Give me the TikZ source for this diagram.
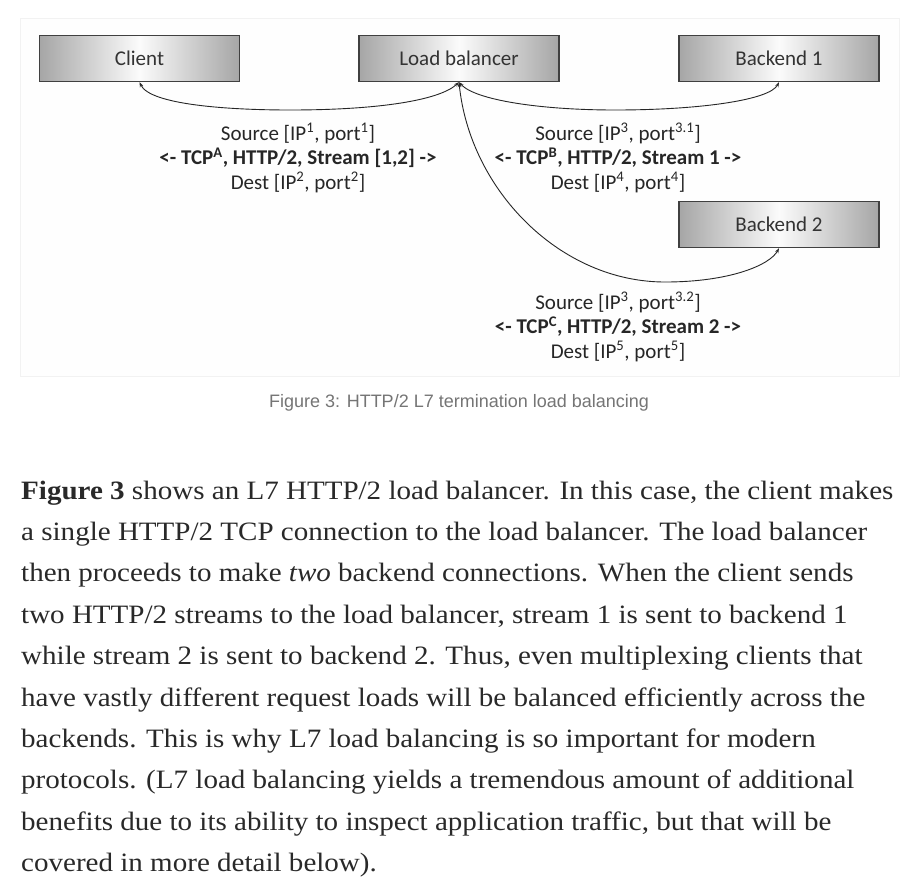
\documentclass[tikz,border=0pt]{standalone}
\usepackage{fontspec}
\setmainfont{Liberation Serif}
\newfontfamily\calfont{Carlito}
\newfontfamily\capfont{Liberation Sans}
\newfontfamily\bodyfont[FakeStretch=1.096]{Liberation Serif}
\usetikzlibrary{arrows.meta}
\definecolor{bodytext}{HTML}{292929}
\definecolor{captext}{HTML}{757575}
\begin{document}
\begin{tikzpicture}[x=1pt,y=-1pt,
 box/.style={draw=black!75, line width=1.3pt, left color=gray!70, right color=gray!70, middle color=gray!3,
   minimum width=200pt, minimum height=46pt, inner sep=0pt,
   font=\calfont\fontsize{21}{22}\selectfont, text=black!80},
 link/.style={line width=0.9pt, draw=black!85, {Stealth[length=5pt,width=3.5pt]}-{Stealth[length=5pt,width=3.5pt]}},
 lbl/.style={align=center, inner sep=0pt, font=\calfont\fontsize{21}{24.5}\selectfont, text=black!85},
 bodyline/.style={anchor=base west, inner sep=0pt, font=\bodyfont\fontsize{26.5}{30}\selectfont, text=bodytext}]

\useasboundingbox (0,0) rectangle (913,884);
\fill[white] (0,0) rectangle (913,884);
\draw[gray!10, fill=gray!1] (20,18) rectangle (899,376);

% boxes
\node[box] (client) at (139.5,58.5) {Client};
\node[box] (lb) at (459,58.5) {Load balancer};
\node[box] (be1) at (779,58.5) {Backend 1};
\node[box] (be2) at (779,224.5) {Backend 2};

% connectors
\draw[link] (client.south) .. controls (150,105) and (230,110) .. (290,110)
  .. controls (380,110) and (440,100) .. (lb.south);
\draw[link] (lb.south) .. controls (475,100) and (540,110) .. (615,110)
  .. controls (700,110) and (770,100) .. (be1.south);
\draw[link] (lb.south) .. controls (470,190) and (560,282) .. (665,282)
  .. controls (730,282) and (770,265) .. (be2.south);

% labels
\node[lbl] (l1) at (298,158) {Source [IP\textsuperscript{1}, port\textsuperscript{1}]\\
  \textbf{<- TCP\textsuperscript{A}, HTTP/2, Stream [1,2] ->}\\
  Dest [IP\textsuperscript{2}, port\textsuperscript{2}]};
\node[lbl] (l2) at (618,158) {Source [IP\textsuperscript{3}, port\textsuperscript{3.1}]\\
  \textbf{<- TCP\textsuperscript{B}, HTTP/2, Stream 1 ->}\\
  Dest [IP\textsuperscript{4}, port\textsuperscript{4}]};
\node[lbl] (l3) at (618,327) {Source [IP\textsuperscript{3}, port\textsuperscript{3.2}]\\
  \textbf{<- TCP\textsuperscript{C}, HTTP/2, Stream 2 ->}\\
  Dest [IP\textsuperscript{5}, port\textsuperscript{5}]};

% caption
\node[inner sep=0pt, font=\capfont\fontsize{18}{20}\selectfont, text=captext] (cap) at (459,403)
  {Figure 3: HTTP/2 L7 termination load balancing};

% body text
\node[bodyline] (t1) at (21,499) {\textbf{Figure 3} shows an L7 HTTP/2 load balancer. In this case, the client makes};
\node[bodyline] (t2) at (21,540.4) {a single HTTP/2 TCP connection to the load balancer. The load balancer};
\node[bodyline] (t3) at (21,581.8) {then proceeds to make \textit{two} backend connections. When the client sends};
\node[bodyline] (t4) at (21,623.2) {two HTTP/2 streams to the load balancer, stream 1 is sent to backend 1};
\node[bodyline] (t5) at (21,664.6) {while stream 2 is sent to backend 2. Thus, even multiplexing clients that};
\node[bodyline] (t6) at (21,706) {have vastly different request loads will be balanced efficiently across the};
\node[bodyline] (t7) at (21,747.4) {backends. This is why L7 load balancing is so important for modern};
\node[bodyline] (t8) at (21,788.8) {protocols. (L7 load balancing yields a tremendous amount of additional};
\node[bodyline] (t9) at (21,830.2) {benefits due to its ability to inspect application traffic, but that will be};
\node[bodyline] (t10) at (21,871.6) {covered in more detail below).};
\end{tikzpicture}
\end{document}
